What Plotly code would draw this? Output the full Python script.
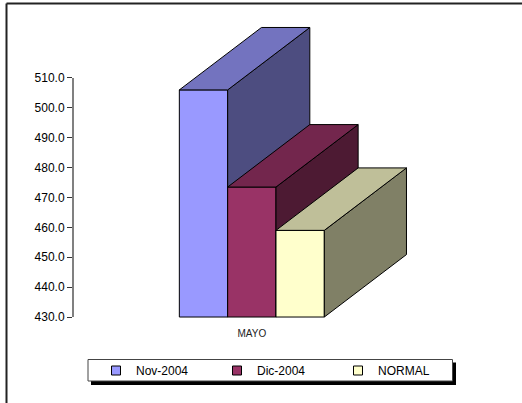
import plotly.graph_objects as go

# ---- data ----
categories = ["MAYO"]
series_names = ["Nov-2004", "Dic-2004", "NORMAL"]
series_values = [506.0, 473.5, 459.0]
y_ticks = [430, 440, 450, 460, 470, 480, 490, 500, 510]
y_tick_labels = ["%.1f" % v for v in y_ticks]

# ---- style ----
front_colors = ["#9999FF", "#993366", "#FFFFCC"]
top_colors = ["#7373BF", "#73264D", "#BFBF99"]
side_colors = ["#4D4D80", "#4D1A33", "#808066"]
FONT = "Arial, Liberation Sans, sans-serif"
BASE = 430.0
DX = 1.70     # depth offset in x units (bar widths)
DY = 20.9     # depth offset in y units

W, H = 522, 403
ML, MR, MT, MB = 73, 22, 20, 80
XR = [-3.70, 5.135]
YR = [428.0, 529.4]


def px(xp):
    return (xp - ML) / (W - ML - MR)


def py(yp):
    return (H - MB - yp) / (H - MT - MB)


fig = go.Figure()
n = len(series_values)
for i, (name, v) in enumerate(zip(series_names, series_values)):
    xa = "x" if i == 0 else "x%d" % (i + 1)
    ya = "y" if i == 0 else "y%d" % (i + 1)
    pos = i - (n - 1) / 2.0
    # front face
    fig.add_trace(go.Bar(
        x=[pos], y=[v - BASE], base=BASE, width=1.0, name=name,
        legendgroup=name, showlegend=False,
        marker=dict(color=front_colors[i], line=dict(color="black", width=1)),
        xaxis=xa, yaxis=ya, customdata=[v],
        hovertemplate=categories[0] + ": %{customdata:.1f}<extra>" + name + "</extra>",
    ))
    r = pos + 0.5
    l = pos - 0.5
    # side face
    fig.add_trace(go.Scatter(
        x=[r, r + DX, r + DX, r, r], y=[BASE, BASE + DY, v + DY, v, BASE],
        mode="lines", fill="toself", fillcolor=side_colors[i], legendgroup=name,
        line=dict(color="black", width=1), showlegend=False, hoverinfo="skip",
        xaxis=xa, yaxis=ya,
    ))
    # top face
    fig.add_trace(go.Scatter(
        x=[l, r, r + DX, l + DX, l], y=[v, v, v + DY, v + DY, v],
        mode="lines", fill="toself", fillcolor=top_colors[i], legendgroup=name,
        line=dict(color="black", width=1), showlegend=False, hoverinfo="skip",
        xaxis=xa, yaxis=ya,
    ))

# legend entries (small square swatches)
for i, name in enumerate(series_names):
    fig.add_trace(go.Scatter(
        x=[None], y=[None], mode="markers", name=name, legendgroup=name,
        marker=dict(symbol="square", size=9, color=front_colors[i],
                    line=dict(color="black", width=1)),
        hoverinfo="skip",
    ))

layout = dict(
    width=W, height=H,
    margin=dict(l=ML, r=MR, t=MT, b=MB, pad=0),
    paper_bgcolor="white", plot_bgcolor="rgba(0,0,0,0)",
    font=dict(family=FONT, color="black"),
    showlegend=True,
    barmode="overlay",
    xaxis=dict(range=XR, showgrid=False, zeroline=False, showline=False,
               tickvals=[0], ticktext=categories, ticks="", ticklabelstandoff=3,
               tickfont=dict(size=10, color="#222"), fixedrange=True),
    yaxis=dict(range=YR, showgrid=False, zeroline=False, showline=False,
               tickvals=y_ticks, ticktext=y_tick_labels, ticks="outside",
               ticklen=5, tickwidth=1, tickcolor="#333",
               tickfont=dict(size=12, color="black"), fixedrange=True),
    legend=dict(orientation="h", x=px(96), y=py(356), xanchor="left", yanchor="top",
                bgcolor="rgba(0,0,0,0)", borderwidth=0,
                font=dict(size=12, color="black"),
                entrywidth=76, entrywidthmode="pixels", traceorder="normal"),
    shapes=[
        # outer frame (left + top edges only are inside the picture)
        dict(type="line", xref="paper", yref="paper", x0=px(6.5), x1=px(6.5),
             y0=py(440), y1=py(3.5), line=dict(color="#222", width=2), layer="below"),
        dict(type="line", xref="paper", yref="paper", x0=px(6.5), x1=px(560),
             y0=py(3.5), y1=py(3.5), line=dict(color="#222", width=2), layer="below"),
        # y axis line
        dict(type="line", xref="paper", yref="y", x0=0, x1=0, y0=430, y1=510,
             line=dict(color="#808080", width=2)),
        # legend shadow + box
        dict(type="rect", xref="paper", yref="paper", x0=px(91), x1=px(456),
             y0=py(385), y1=py(362.5), fillcolor="black", line=dict(width=0), layer="below"),
        dict(type="rect", xref="paper", yref="paper", x0=px(88), x1=px(452.5),
             y0=py(381), y1=py(359.5), fillcolor="white",
             line=dict(color="#444", width=1), layer="below"),
    ],
)
for i in range(1, n):
    layout["xaxis%d" % (i + 1)] = dict(range=XR, overlaying="x", anchor="y%d" % (i + 1),
                                       visible=False, fixedrange=True)
    layout["yaxis%d" % (i + 1)] = dict(range=YR, overlaying="y", anchor="x%d" % (i + 1),
                                       visible=False, fixedrange=True)
fig.update_layout(**layout)

fig.write_html(
    "out.html",
    config={"displayModeBar": False},
    post_script="document.body.style.margin='0';document.body.style.overflow='hidden';",
)
